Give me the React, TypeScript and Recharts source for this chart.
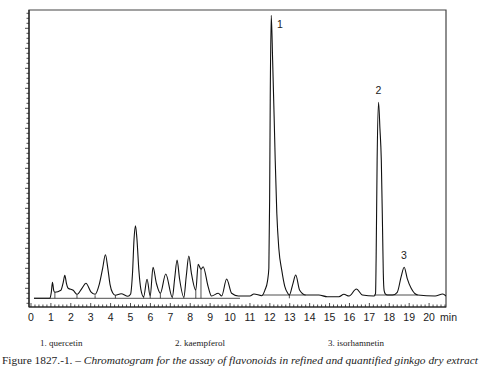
import { Line, LineChart, ReferenceArea, ReferenceDot, ReferenceLine, XAxis, YAxis } from 'recharts';

// retention time (min) and detector signal (arbitrary units above the early baseline)
const retentionTimes = [
  0.15, 0.95, 1.02, 1.08, 1.14, 1.2, 1.5, 1.62, 1.7, 1.78, 1.87, 2.12, 2.31, 2.56, 2.76, 3.01, 3.22, 3.43, 3.6,
  3.74, 3.86, 3.97, 4.1, 4.24, 4.53, 4.87, 5.0, 5.1, 5.18, 5.25, 5.32, 5.42, 5.52, 5.66, 5.83, 5.99, 6.13, 6.3,
  6.5, 6.77, 7.1, 7.22, 7.34, 7.46, 7.68, 7.8, 7.93, 8.06, 8.28, 8.4, 8.54, 8.65, 8.9, 9.07, 9.41, 9.58, 9.83,
  10.08, 10.42, 11.0, 11.2, 11.6, 11.75, 11.88, 11.95, 11.99, 12.02, 12.07, 12.14, 12.22, 12.27, 12.35, 12.45,
  12.6, 12.75, 12.9, 12.98, 13.15, 13.3, 13.5, 13.8, 14.46, 14.88, 15.47, 15.72, 15.98, 16.35, 16.65, 17.24,
  17.31, 17.34, 17.39, 17.46, 17.53, 17.6, 17.67, 17.7, 17.74, 17.8, 17.91, 18.17, 18.4, 18.6, 18.75, 18.9,
  19.1, 19.43, 20.3, 20.69, 20.85,
];
const signal = [
  0, 0, 6, 16, 8, 6, 8, 16, 23, 15, 10, 8, 4, 10, 15, 6.5, 4, 14, 30,
  43.5, 30, 14, 5.5, 3, 4.5, 2, 4, 25, 60, 72.5, 60, 28, 9, 1.5, 19, 2, 31, 15,
  5, 24.3, 1, 20, 38.3, 20, 1, 22, 42.3, 25, 8, 34, 29, 31.6, 11.6, 2.3, 5, 2.3, 19.3,
  5, 2.3, 2.3, 4.3, 2.6, 8, 17, 30, 100, 200, 283, 238, 178, 138, 85, 50,
  28, 12, 5, 3.3, 14, 23.3, 8, 3.3, 3.3, 1.6, 1.6, 4, 2.3, 9.3, 3.3, 2.3,
  5, 40, 138, 196, 170, 138, 60, 25, 8, 4.5, 3.3, 3.3, 6, 22, 31, 20,
  10, 3.3, 2.3, 4.3, 2.3,
];

// vertical drop lines of the integrator
const dropTimes = [1.2, 2.31, 3.22, 4.24, 5.66, 5.99, 6.5, 7.1, 7.68, 8.28, 8.54, 12.98];
const dropHeights = [6, 4, 3, 3, 1.5, 2, 5, 1, 1, 8, 29, 3.3];

// integration baselines [start, end, height]
const baseStarts = [0.15, 11.6, 17.24];
const baseEnds = [10.5, 13.8, 19.43];
const baseHeights = [0, 3.3, 3.3];

const peakNumbers = ['1', '2', '3'];
const peakLabelTimes = [12.5, 17.46, 18.73];
const peakLabelHeights = [274, 208, 42.6];

const compounds = ['1. quercetin', '2. kaempferol', '3. isorhamnetin'];
const compoundX = [40, 175, 328];

const xMinor = Array.from({ length: 105 }, (_, i) => Math.round(i * 2) / 10);
const yMinor = Array.from({ length: 59 }, (_, i) => -5 + i * 5);

const data = retentionTimes.map((t, i) => ({ t, v: signal[i] }));

const INK = '#222';

function TimeTick(props: any) {
  const { x, y, payload } = props;
  const value = payload.value as number;
  const major = Math.abs(value - Math.round(value)) < 1e-6;
  return (
    <g>
      <line x1={x} x2={x} y1={y} y2={y - (major ? 4 : 2.5)} stroke={INK} strokeWidth={0.8} />
      {major && value <= 20 && (
        <text x={x} y={y + 14} textAnchor="middle" fontSize={10.5} fill={INK}
          fontFamily="'Liberation Sans', Arial, sans-serif">
          {value}
        </text>
      )}
      {value === 20 && (
        <text x={x + 11} y={y + 14} fontSize={10.5} fill={INK}
          fontFamily="'Liberation Sans', Arial, sans-serif">
          min
        </text>
      )}
    </g>
  );
}

function SignalTick(props: any) {
  const { x, y, payload } = props;
  const major = (payload.value - 10) % 20 === 0;
  return <line x1={x} x2={x - (major ? 4 : 2.5)} y1={y} y2={y} stroke={INK} strokeWidth={0.8} />;
}

export default function App() {
  return (
    <div style={{ position: 'absolute', left: 0, top: 0, width: 480, height: 380, background: '#fff' }}>
      <LineChart width={480} height={330} data={data} margin={{ top: 10, right: 34, bottom: 0, left: 0 }}>
        <XAxis
          dataKey="t"
          type="number"
          domain={[-0.1, 20.85]}
          allowDataOverflow
          ticks={xMinor}
          interval={0}
          tick={<TimeTick />}
          tickLine={false}
          tickSize={0}
          tickMargin={0}
          height={23}
          axisLine={{ stroke: INK, strokeWidth: 1.2 }}
        />
        <YAxis
          type="number"
          domain={[-8.7, 288.3]}
          allowDataOverflow
          ticks={yMinor}
          interval={0}
          tick={<SignalTick />}
          tickLine={false}
          tickSize={0}
          tickMargin={0}
          width={29}
          axisLine={{ stroke: INK, strokeWidth: 1.2 }}
        />
        <ReferenceArea x1={-0.1} x2={20.85} y1={-8.7} y2={288.3} fill="none" stroke="#444" strokeWidth={1.2} ifOverflow="visible" />
        {baseStarts.map((s, i) => (
          <ReferenceLine key={'b' + i} segment={[{ x: s, y: baseHeights[i] }, { x: baseEnds[i], y: baseHeights[i] }]}
            stroke={INK} strokeWidth={0.8} ifOverflow="visible" />
        ))}
        {dropTimes.map((t, i) => (
          <ReferenceLine key={'d' + i} segment={[{ x: t, y: 0 }, { x: t, y: dropHeights[i] }]}
            stroke={INK} strokeWidth={0.8} ifOverflow="visible" />
        ))}
        <Line type="monotone" dataKey="v" stroke="#111" strokeWidth={1.1} dot={false} isAnimationActive={false} />
        {peakNumbers.map((n, i) => (
          <ReferenceDot key={n} x={peakLabelTimes[i]} y={peakLabelHeights[i]} r={0} fill="none" stroke="none"
            label={{ value: n, position: 'center', fontSize: 10.5, fill: INK, fontFamily: "'Liberation Sans', Arial, sans-serif" }} />
        ))}
      </LineChart>
      <svg width={480} height={50} style={{ position: 'absolute', left: 0, top: 330 }}>
        {compounds.map((c, i) => (
          <text key={c} x={compoundX[i]} y={16} fontSize={9} fill={INK} fontFamily="'Liberation Serif', 'Times New Roman', serif">
            {c}
          </text>
        ))}
        <text x={2} y={34} fontSize={11} fill={INK} fontFamily="'Liberation Serif', 'Times New Roman', serif"
          textLength={476} lengthAdjust="spacingAndGlyphs">
          Figure 1827.-1. –{' '}
          <tspan fontStyle="italic">Chromatogram for the assay of flavonoids in refined and quantified ginkgo dry extract</tspan>
        </text>
      </svg>
    </div>
  );
}
